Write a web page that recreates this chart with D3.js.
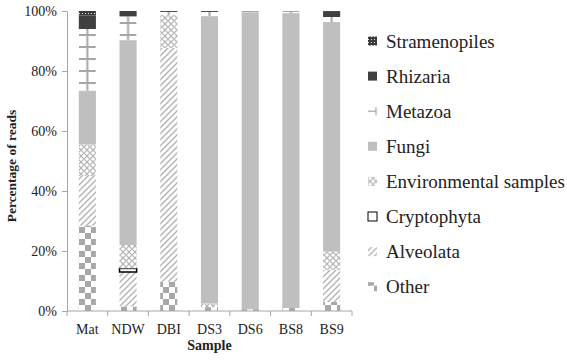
<!DOCTYPE html>
<html>
<head>
<meta charset="utf-8">
<script src="https://cdn.jsdelivr.net/npm/d3@7"></script>
<style>
  body { margin: 0; background: #fff; }
  text { font-family: "Liberation Serif", "Times New Roman", serif; fill: #222; }
</style>
</head>
<body>
<svg id="chart" width="567" height="362"></svg>
<script>
const samples = ["Mat", "NDW", "DBI", "DS3", "DS6", "BS8", "BS9"];
const taxa = ["Other", "Alveolata", "Cryptophyta", "Environmental samples", "Fungi", "Metazoa", "Rhizaria", "Stramenopiles"];

// percentages per sample, same order as samples
const other = [28.5, 1.5, 9.8, 1.3, 0.6, 1.0, 3.0];
const alveolata = [16.5, 11.5, 77.9, 0, 0, 0, 10.7];
const cryptophyta = [0, 1.2, 0, 0, 0, 0, 0];
const environmental = [10.5, 7.8, 11.0, 1.2, 0, 0, 6.1];
const fungi = [18.0, 68.3, 0, 95.8, 99.0, 98.3, 76.5];
const metazoa = [20.5, 7.9, 1.0, 1.4, 0.4, 0.7, 1.7];
const rhizaria = [4.5, 1.8, 0.3, 0.3, 0, 0, 1.7];
const stramenopiles = [1.5, 0, 0, 0, 0, 0, 0.3];

const yTicks = [0, 20, 40, 60, 80, 100];

const series = [other, alveolata, cryptophyta, environmental, fungi, metazoa, rhizaria, stramenopiles];
const table = samples.map((s, i) => {
    const row = { sample: s };
    taxa.forEach((t, j) => row[t] = series[j][i]);
    return row;
});

const svg = d3.select("#chart");
const margin = { left: 67, right: 352, top: 11, bottom: 311 };

const x = d3.scaleBand().domain(samples).range([margin.left, margin.right])
    .paddingInner(0.58).paddingOuter(0.29);
const y = d3.scaleLinear().domain([0, 100]).range([margin.bottom, margin.top]);
const step = x.step();
const bw = x.bandwidth();

// patterns
const defs = svg.append("defs");

const pOther = defs.append("pattern").attr("id", "p-other")
    .attr("patternUnits", "userSpaceOnUse").attr("width", 12).attr("height", 12)
    .attr("x", margin.left).attr("y", margin.bottom);
pOther.append("rect").attr("width", 12).attr("height", 12).attr("fill", "#fff");
pOther.append("rect").attr("width", 6).attr("height", 6).attr("fill", "#a8a8a8");
pOther.append("rect").attr("x", 6).attr("y", 6).attr("width", 6).attr("height", 6).attr("fill", "#a8a8a8");

const pAlv = defs.append("pattern").attr("id", "p-alv")
    .attr("patternUnits", "userSpaceOnUse").attr("width", 6).attr("height", 6);
pAlv.append("rect").attr("width", 6).attr("height", 6).attr("fill", "#fff");
pAlv.append("path").attr("d", "M-1,7 L7,-1 M-4,4 L4,-4 M2,10 L10,2")
    .attr("stroke", "#b0b0b0").attr("stroke-width", 1.3);

const pEnv = defs.append("pattern").attr("id", "p-env")
    .attr("patternUnits", "userSpaceOnUse").attr("width", 6).attr("height", 6);
pEnv.append("rect").attr("width", 6).attr("height", 6).attr("fill", "#fff");
pEnv.append("path").attr("d", "M0,3 L3,0 L6,3 L3,6 Z")
    .attr("fill", "none").attr("stroke", "#b5b5b5").attr("stroke-width", 1.2);

const pStr = defs.append("pattern").attr("id", "p-str")
    .attr("patternUnits", "userSpaceOnUse").attr("width", 3).attr("height", 3);
pStr.append("rect").attr("width", 3).attr("height", 3).attr("fill", "#3a3a3a");
pStr.append("rect").attr("x", 1).attr("y", 1).attr("width", 1).attr("height", 1).attr("fill", "#e8e8e8");

const pMet = defs.append("pattern").attr("id", "p-met")
    .attr("patternUnits", "userSpaceOnUse").attr("width", step).attr("height", 12)
    .attr("x", margin.left).attr("y", margin.bottom - 6);
pMet.append("rect").attr("width", step).attr("height", 12).attr("fill", "#fff");
pMet.append("rect").attr("x", step / 2 - 1).attr("width", 2).attr("height", 12).attr("fill", "#a6a6a6");
pMet.append("rect").attr("x", step / 2 - bw / 2).attr("y", 5).attr("width", bw).attr("height", 2).attr("fill", "#a6a6a6");

const fills = {
    "Other": "url(#p-other)",
    "Alveolata": "url(#p-alv)",
    "Cryptophyta": "#fff",
    "Environmental samples": "url(#p-env)",
    "Fungi": "#bfbfbf",
    "Metazoa": "url(#p-met)",
    "Rhizaria": "#404040",
    "Stramenopiles": "url(#p-str)"
};

const stacked = d3.stack().keys(taxa)(table);

svg.append("g").selectAll("g")
    .data(stacked)
    .join("g")
    .attr("fill", d => fills[d.key])
    .attr("stroke", d => d.key === "Cryptophyta" ? "#000" : "none")
    .attr("stroke-width", 1.5)
    .selectAll("rect")
    .data(d => d.filter(p => p[1] - p[0] > 0))
    .join("rect")
    .attr("x", d => x(d.data.sample))
    .attr("y", d => y(d[1]))
    .attr("width", bw)
    .attr("height", d => y(d[0]) - y(d[1]));

// axes
const axisColor = "#a6a6a6";
const yAxis = svg.append("g").attr("transform", `translate(${margin.left},0)`)
    .call(d3.axisLeft(y).tickValues(yTicks).tickFormat(d => d + "%").tickSize(5).tickSizeOuter(0));
yAxis.select(".domain").attr("stroke", axisColor);
yAxis.selectAll(".tick line").attr("stroke", axisColor);
yAxis.selectAll(".tick text").attr("x", -10).style("font-size", "14px")
    .style("font-family", "Liberation Serif").attr("fill", "#333");

const xAxis = svg.append("g").attr("transform", `translate(0,${margin.bottom})`);
xAxis.append("line").attr("x1", margin.left).attr("x2", margin.right)
    .attr("stroke", axisColor);
xAxis.selectAll(".bt").data(d3.range(samples.length + 1)).join("line")
    .attr("x1", i => margin.left + i * step).attr("x2", i => margin.left + i * step)
    .attr("y1", 0).attr("y2", 5).attr("stroke", axisColor);
xAxis.selectAll(".lbl").data(samples).join("text")
    .attr("x", d => x(d) + bw / 2).attr("y", 23)
    .attr("text-anchor", "middle").style("font-size", "14px").attr("fill", "#333")
    .text(d => d);

svg.append("text").attr("x", (margin.left + margin.right) / 2).attr("y", 350)
    .attr("text-anchor", "middle").style("font-size", "14px").style("font-weight", "bold")
    .text("Sample");

svg.append("text").attr("transform", "translate(16,166) rotate(-90)")
    .attr("text-anchor", "middle").style("font-size", "13.5px").style("font-weight", "bold")
    .text("Percentage of reads");

// legend (top to bottom reversed order)
const legendItems = taxa.slice().reverse();
const legend = svg.append("g").selectAll("g")
    .data(legendItems)
    .join("g")
    .attr("transform", (d, i) => `translate(367,${41 + i * 35.1})`);

legend.each(function (d) {
    const g = d3.select(this);
    if (d === "Metazoa") {
        g.append("line").attr("x1", 1).attr("x2", 9).attr("y1", 0).attr("y2", 0)
            .attr("stroke", "#a6a6a6").attr("stroke-width", 1.2);
        g.append("line").attr("x1", 9).attr("x2", 9).attr("y1", -4).attr("y2", 4)
            .attr("stroke", "#a6a6a6").attr("stroke-width", 1.2);
    } else {
        g.append("rect").attr("x", 1).attr("y", -4.5).attr("width", 9).attr("height", 9)
            .attr("fill", fills[d])
            .attr("stroke", d === "Cryptophyta" ? "#000" : "none");
    }
    g.append("text").attr("x", 19).attr("y", 6.5)
        .style("font-size", "19px").text(d);
});
</script>
</body>
</html>
